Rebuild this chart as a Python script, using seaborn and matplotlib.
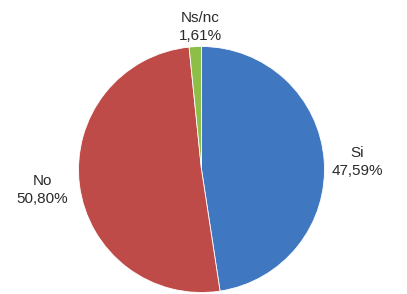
import matplotlib
matplotlib.use("Agg")
import matplotlib.pyplot as plt
import seaborn as sns

categories = ["Si", "No", "Ns/nc"]
values = [47.59, 50.80, 1.61]
value_labels = ["47,59%", "50,80%", "1,61%"]
colors = ["#3f78c0", "#be4b48", "#8cbe48"]

sns.set_theme(style="white")
plt.rcParams['font.family'] = ['Liberation Sans', 'DejaVu Sans']

fig = plt.figure(figsize=(4.07, 2.94), dpi=100)
ax = fig.add_axes([0, 0, 1, 1])
ax.pie(values, colors=colors, startangle=90, counterclock=False,
       center=(201.5, 124.5), radius=123,
       wedgeprops=dict(linewidth=0.6, edgecolor="white"))
ax.set_xlim(0, 407)
ax.set_ylim(0, 294)
ax.set_aspect("equal")
ax.axis("off")

label_pos = [(357, 132), (42, 104), (200, 267)]
for cat, lab, (x, y) in zip(categories, value_labels, label_pos):
    ax.text(x, y, f"{cat}\n{lab}", ha="center", va="center", fontsize=11,
            color="#2a2a2a", linespacing=1.3)

fig.savefig("out.png", dpi=100, facecolor="white")
